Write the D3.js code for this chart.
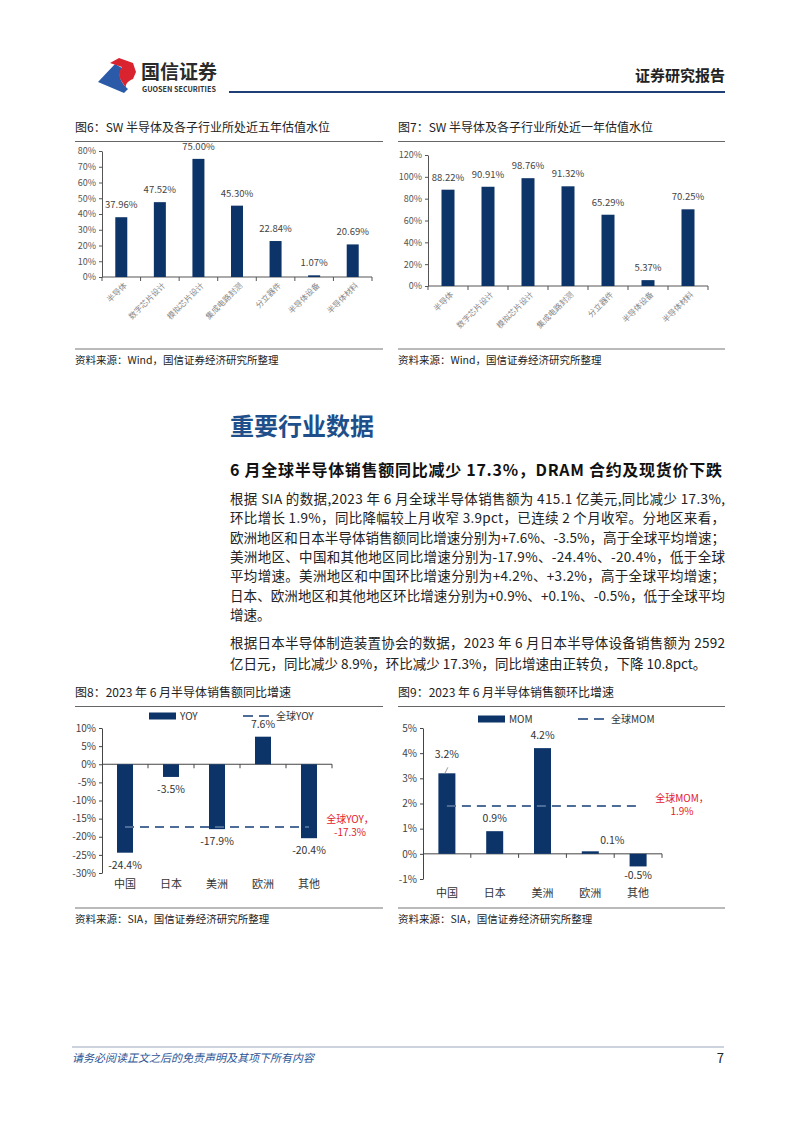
<!DOCTYPE html>
<html><head><meta charset="utf-8">
<script src="https://cdn.jsdelivr.net/npm/d3@7"></script>
<style>
html,body{margin:0;padding:0;background:#fff;}
svg{display:block;}
text{font-family:"Noto Sans CJK SC","Liberation Sans",sans-serif;}
</style></head>
<body>
<svg id="page" width="802" height="1133"></svg>
<script>
// ---------- data ----------
const cats6 = ["半导体","数字芯片设计","模拟芯片设计","集成电路封测","分立器件","半导体设备","半导体材料"];
const vals6 = [37.96,47.52,75.00,45.30,22.84,1.07,20.69];
const ticks6 = [0,10,20,30,40,50,60,70,80];
const cats7 = cats6;
const vals7 = [88.22,90.91,98.76,91.32,65.29,5.37,70.25];
const ticks7 = [0,20,40,60,80,100,120];
const regions = ["中国","日本","美洲","欧洲","其他"];
const yoy = [-24.4,-3.5,-17.9,7.6,-20.4];
const globalYoy = -17.3;
const ticks8 = [-30,-25,-20,-15,-10,-5,0,5,10];
const mom = [3.2,0.9,4.2,0.1,-0.5];
const globalMom = 1.9;
const ticks9 = [-1,0,1,2,3,4,5];

const para1 = [
 "根据 SIA 的数据,2023 年 6 月全球半导体销售额为 415.1 亿美元,同比减少 17.3%,",
 "环比增长 1.9%，同比降幅较上月收窄 3.9pct，已连续 2 个月收窄。分地区来看，",
 "欧洲地区和日本半导体销售额同比增速分别为+7.6%、-3.5%，高于全球平均增速；",
 "美洲地区、中国和其他地区同比增速分别为-17.9%、-24.4%、-20.4%，低于全球",
 "平均增速。美洲地区和中国环比增速分别为+4.2%、+3.2%，高于全球平均增速；",
 "日本、欧洲地区和其他地区环比增速分别为+0.9%、+0.1%、-0.5%，低于全球平均",
 "增速。"
];
const para2 = [
 "根据日本半导体制造装置协会的数据，2023 年 6 月日本半导体设备销售额为 2592",
 "亿日元，同比减少 8.9%，环比减少 17.3%，同比增速由正转负，下降 10.8pct。"
];

const BAR = "#0d3468";
const DASH = "#4d6c97";
const RED = "#e3202c";
const svg = d3.select("#page");

// ---------- header ----------
const logo = svg.append("g");
logo.append("path").attr("d","M98,82 L115,64 L122,68 C117,75 121,83 128,89 L124,93 Z").attr("fill","#2a5aa8");
logo.append("path").attr("d","M110,63 L119,58 L133,63 L136,72 L133,79 C128,81 125,84 126,88 L122,82 C118,76 119,71 122,67 Z").attr("fill","#d9232e");
svg.append("text").attr("x",141).attr("y",79).attr("font-size",19).attr("font-weight","bold").attr("fill","#2b2b2b").text("国信证券");
svg.append("text").attr("x",142).attr("y",92).attr("font-size",7.2).attr("font-weight","bold").attr("fill","#333").attr("font-family","Liberation Sans").text("GUOSEN SECURITIES");
svg.append("text").attr("x",725).attr("y",81).attr("text-anchor","end").attr("font-size",15).attr("font-weight","bold").attr("fill","#222").text("证券研究报告");
svg.append("line").attr("x1",229).attr("x2",725).attr("y1",92).attr("y2",92).attr("stroke","#1f3f77").attr("stroke-width",2);

// ---------- helpers ----------
function titleBlock(x, y, w, t){
  svg.append("text").attr("x",x).attr("y",y).attr("font-size",12).attr("fill","#222").text(t);
  svg.append("line").attr("x1",x).attr("x2",x+w).attr("y1",y+9.5).attr("y2",y+9.5).attr("stroke","#666").attr("stroke-width",1);
}
function sourceBlock(x, y, w, t){
  svg.append("line").attr("x1",x).attr("x2",x+w).attr("y1",y).attr("y2",y).attr("stroke","#777").attr("stroke-width",1.2);
  svg.append("text").attr("x",x).attr("y",y+15).attr("font-size",10.5).attr("fill","#222").text(t);
}

// valuation chart (fig 6 / 7)
function valChart(cfg){
  const g = svg.append("g");
  const x = d3.scaleBand().domain(cfg.cats).range([cfg.x0, cfg.x1]).padding(0);
  const y = d3.scaleLinear().domain([0, d3.max(cfg.ticks)]).range([cfg.yb, cfg.yt]);
  const ya = g.append("g").attr("transform",`translate(${cfg.x0},0)`)
    .call(d3.axisLeft(y).tickValues(cfg.ticks).tickFormat(d=>d+"%").tickSize(3).tickSizeOuter(0));
  ya.select(".domain").attr("stroke","#555");
  ya.selectAll(".tick line").attr("stroke","#555");
  ya.selectAll("text").attr("font-size",9).attr("fill","#555").attr("font-family","Liberation Sans");
  g.append("line").attr("x1",cfg.x0).attr("x2",cfg.x1).attr("y1",y(0)).attr("y2",y(0)).attr("stroke","#555");
  const bounds = cfg.cats.map(c=>x(c)).concat([cfg.x1]);
  g.selectAll(".xt").data(bounds).join("line").attr("x1",d=>d).attr("x2",d=>d).attr("y1",y(0)).attr("y2",y(0)+4).attr("stroke","#555");
  g.selectAll(".bar").data(cfg.vals).join("rect")
    .attr("x",(d,i)=>x(cfg.cats[i])+x.bandwidth()/2-cfg.bw/2)
    .attr("width",cfg.bw).attr("y",d=>y(d)).attr("height",d=>y(0)-y(d)).attr("fill",BAR);
  g.selectAll(".vl").data(cfg.vals).join("text")
    .attr("x",(d,i)=>x(cfg.cats[i])+x.bandwidth()/2).attr("y",d=>y(d)-9)
    .attr("text-anchor","middle").attr("font-size",9.5).attr("fill","#444").attr("font-family","Liberation Sans")
    .text(d=>d.toFixed(2)+"%");
  g.selectAll(".cl").data(cfg.cats).join("text")
    .attr("transform",d=>`translate(${x(d)+x.bandwidth()/2+6},${y(0)+9}) rotate(-45)`)
    .attr("text-anchor","end").attr("font-size",8).attr("fill","#888").text(d=>d);
}

// growth chart (fig 8 / 9)
function growthChart(cfg){
  const g = svg.append("g");
  const x = d3.scaleBand().domain(cfg.cats).range([cfg.x0, cfg.x1]).padding(0);
  const y = d3.scaleLinear().domain(d3.extent(cfg.ticks)).range([cfg.yb, cfg.yt]);
  const ya = g.append("g").attr("transform",`translate(${cfg.x0},0)`)
    .call(d3.axisLeft(y).tickValues(cfg.ticks).tickFormat(d=>d+"%").tickSize(3).tickSizeOuter(0));
  ya.select(".domain").attr("stroke","#444");
  ya.selectAll(".tick line").attr("stroke","#444");
  ya.selectAll("text").attr("font-size",10).attr("fill","#444").attr("font-family","Liberation Sans");
  const y0 = y(0);
  g.append("line").attr("x1",cfg.x0).attr("x2",cfg.x1).attr("y1",y0).attr("y2",y0).attr("stroke","#444");
  const bounds = cfg.cats.map(c=>x(c)).concat([cfg.x1]).slice(1);
  g.selectAll(".xt").data(bounds).join("line").attr("x1",d=>d).attr("x2",d=>d).attr("y1",y0).attr("y2",y0+4).attr("stroke","#444");
  const cx = i => x(cfg.cats[i]) + x.bandwidth()/2;
  g.selectAll(".bar").data(cfg.vals).join("rect")
    .attr("x",(d,i)=>cx(i)-cfg.bw/2).attr("width",cfg.bw)
    .attr("y",d=>Math.min(y(d),y0)).attr("height",d=>Math.abs(y(d)-y0)).attr("fill",BAR);
  g.append("line").attr("x1",cx(0)).attr("x2",cx(cfg.cats.length-1))
    .attr("y1",y(cfg.global)).attr("y2",y(cfg.global))
    .attr("stroke",DASH).attr("stroke-width",2).attr("stroke-dasharray","9,6");
  g.selectAll(".vl").data(cfg.vals).join("text")
    .attr("x",(d,i)=>cx(i)+(cfg.lblDx[i]||0))
    .attr("y",(d,i)=>(d>=0? y(d)-9 : y(d)+16)+(cfg.lblDy[i]||0))
    .attr("text-anchor","middle").attr("font-size",10.5).attr("fill","#333")
    .text(d=>d.toFixed(1)+"%");
  if(cfg.leader!=null){
    const i = cfg.leader;
    g.append("line").attr("x1",cx(i)+1).attr("x2",cx(i)-2).attr("y1",y(cfg.vals[i])-6).attr("y2",y(cfg.vals[i])).attr("stroke","#999");
  }
  g.selectAll(".cl").data(cfg.cats).join("text")
    .attr("x",(d,i)=>cx(i)).attr("y",cfg.catY).attr("text-anchor","middle")
    .attr("font-size",11).attr("fill","#333").text(d=>d);
  g.append("rect").attr("x",cfg.legX).attr("y",cfg.legY-3.5).attr("width",27).attr("height",7).attr("fill",BAR);
  g.append("text").attr("x",cfg.legX+31).attr("y",cfg.legY+4).attr("font-size",10).attr("fill","#333").text(cfg.legName);
  g.append("line").attr("x1",cfg.leg2X).attr("x2",cfg.leg2X+29).attr("y1",cfg.legY).attr("y2",cfg.legY)
    .attr("stroke",DASH).attr("stroke-width",2).attr("stroke-dasharray","10,6");
  g.append("text").attr("x",cfg.leg2X+33).attr("y",cfg.legY+4).attr("font-size",10).attr("fill","#333").text(cfg.leg2Name);
  g.append("text").attr("x",cfg.annX).attr("y",y(cfg.global)-4).attr("text-anchor","middle").attr("font-size",10).attr("fill",RED).text(cfg.leg2Name+"，");
  g.append("text").attr("x",cfg.annX).attr("y",y(cfg.global)+9).attr("text-anchor","middle").attr("font-size",10).attr("fill",RED).text(cfg.global.toFixed(1)+"%");
}

// ---------- fig 6 / 7 ----------
titleBlock(75,132,308,"图6：SW 半导体及各子行业所处近五年估值水位");
valChart({cats:cats6, vals:vals6, ticks:ticks6, x0:102, x1:372, yb:277, yt:151, bw:12});
sourceBlock(75,349,308,"资料来源：Wind，国信证券经济研究所整理");

titleBlock(398,132,327,"图7：SW 半导体及各子行业所处近一年估值水位");
valChart({cats:cats7, vals:vals7, ticks:ticks7, x0:428, x1:708, yb:286, yt:155, bw:13});
sourceBlock(398,349,327,"资料来源：Wind，国信证券经济研究所整理");

// ---------- section text ----------
svg.append("text").attr("x",230).attr("y",435).attr("font-size",24).attr("font-weight","bold").attr("fill","#1e4f8b").text("重要行业数据");
svg.append("text").attr("x",230).attr("y",476).attr("font-size",16).attr("font-weight","bold").attr("fill","#111")
  .attr("textLength",492).attr("lengthAdjust","spacing").text("6 月全球半导体销售额同比减少 17.3%，DRAM 合约及现货价下跌");
function para(lines, y0, lh){
  lines.forEach((t,i)=>{
    const tx = svg.append("text").attr("x",230).attr("y",y0+i*lh).attr("font-size",13.5).attr("fill","#222").text(t);
    if(i<lines.length-1) tx.attr("textLength",495).attr("lengthAdjust","spacing");
  });
}
para(para1, 504, 19.3);
para(para2, 648, 21);

// ---------- fig 8 / 9 ----------
titleBlock(75,697,308,"图8：2023 年 6 月半导体销售额同比增速");
growthChart({cats:regions, vals:yoy, ticks:ticks8, global:globalYoy, x0:102, x1:332, yb:873, yt:728, bw:16,
  catY:888, legX:149, leg2X:243, legY:716, legName:"YOY", leg2Name:"全球YOY", annX:350,
  lblDx:[0,0,0,0,0], lblDy:[0,0,0,0,0], leader:null});
sourceBlock(75,908,308,"资料来源：SIA，国信证券经济研究所整理");

titleBlock(398,697,327,"图9：2023 年 6 月半导体销售额环比增速");
growthChart({cats:regions, vals:mom, ticks:ticks9, global:globalMom, x0:423, x1:662, yb:879, yt:728, bw:17,
  catY:897, legX:478, leg2X:578, legY:719, legName:"MOM", leg2Name:"全球MOM", annX:682,
  lblDx:[0,0,0,22,0], lblDy:[-6,0,0,2,-3], leader:0});
sourceBlock(398,908,327,"资料来源：SIA，国信证券经济研究所整理");

// ---------- footer ----------
svg.append("line").attr("x1",72).attr("x2",724).attr("y1",1047).attr("y2",1047).attr("stroke","#9aa8bd").attr("stroke-width",1.2);
svg.append("text").attr("x",72).attr("y",1062).attr("font-size",11).attr("font-style","italic").attr("fill","#2c5596").text("请务必阅读正文之后的免责声明及其项下所有内容");
svg.append("text").attr("x",724).attr("y",1063).attr("text-anchor","end").attr("font-size",13).attr("fill","#222").text("7");
</script>
</body></html>
